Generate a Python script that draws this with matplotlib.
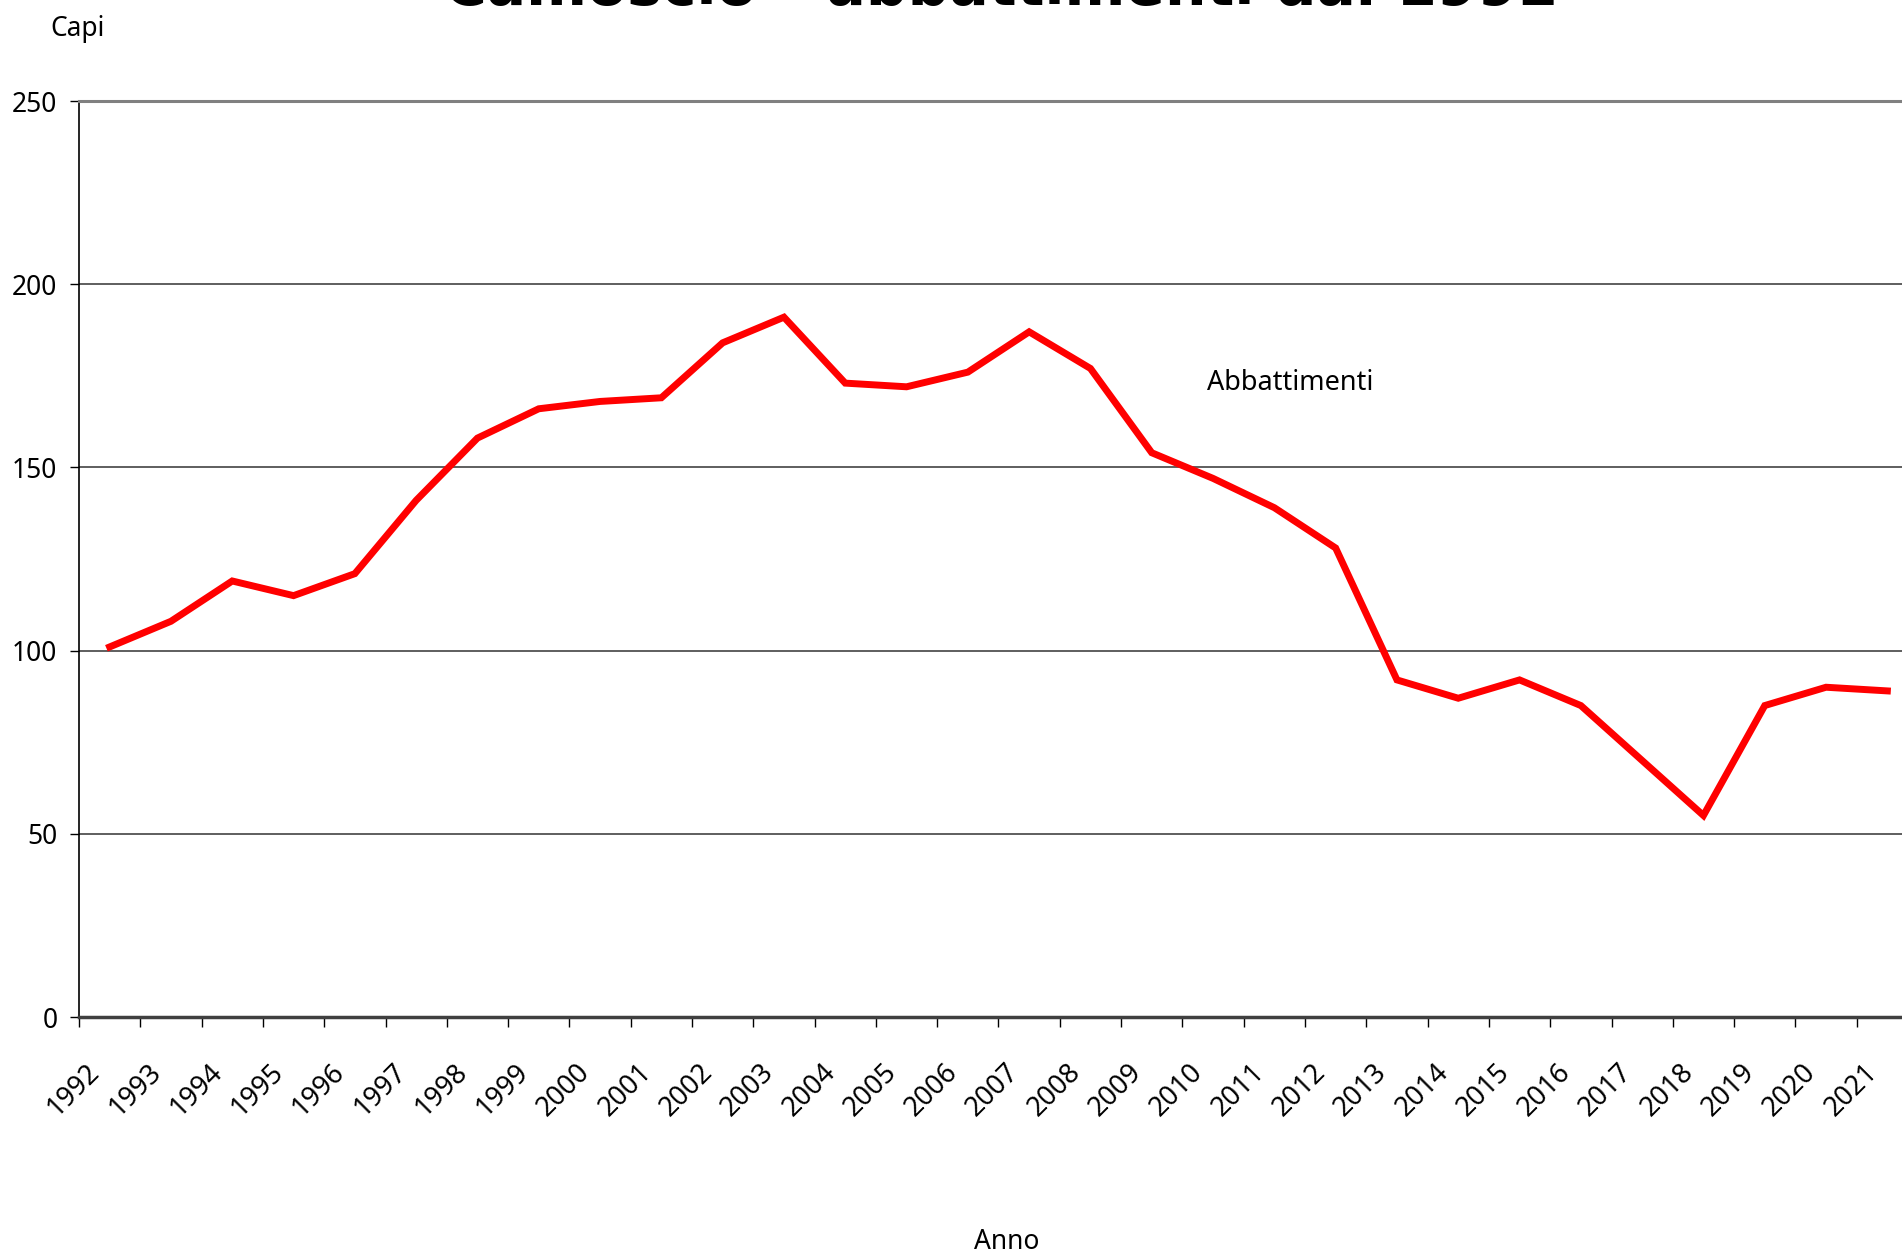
import matplotlib
matplotlib.use("Agg")
import matplotlib.pyplot as plt
import matplotlib.transforms as mtransforms
import numpy as np

plt.rcParams['font.family'] = ['Noto Sans', 'DejaVu Sans']

years = [str(y) for y in range(1992, 2022)]
abbattimenti = [101, 108, 119, 115, 121, 141, 158, 166, 168, 169,
                184, 191, 173, 172, 176, 187, 177, 154, 147, 139,
                128, 92, 87, 92, 85, 70, 55, 85, 90, 89]
y_ticks = [0, 50, 100, 150, 200, 250]

title = "Camoscio \u2013 abbattimenti dal 1992"
series_label = "Abbattimenti"
y_label = "Capi"
x_label = "Anno"

W, H = 1902, 1253
fig = plt.figure(figsize=(W / 100, H / 100), dpi=100)
left, right, top, bottom = 79, 1918, 101, 1017
ax = fig.add_axes([left / W, (H - bottom) / H, (right - left) / W, (bottom - top) / H])

x = np.arange(len(years))
ax.plot(x, abbattimenti, color='#ff0000', lw=5, solid_joinstyle='miter', zorder=3, clip_on=False)

ax.set_xlim(-0.5, len(years) - 0.5)
ax.set_ylim(0, 250)

# gridlines
for v in y_ticks[1:-1]:
    ax.axhline(v, color='#333333', lw=1.1, zorder=1)

ax.spines['right'].set_visible(False)
ax.spines['top'].set_color('#808080')
ax.spines['top'].set_linewidth(2.2)
ax.spines['bottom'].set_color('#404040')
ax.spines['bottom'].set_linewidth(2.5)
ax.spines['left'].set_color('black')
ax.spines['left'].set_linewidth(1.2)

ax.set_yticks(y_ticks)
ax.set_yticklabels([str(v) for v in y_ticks])
ax.tick_params(axis='y', direction='out', length=6.5, width=1, pad=9, labelsize=19, colors='black')

# category boundaries as major ticks, labels at centers
ax.set_xticks(np.arange(len(years)) - 0.5)
ax.set_xticklabels([])
ax.tick_params(axis='x', which='major', direction='out', length=7, width=1, color='black')
ax.set_xticks(x, minor=True)
ax.set_xticklabels(years, minor=True, rotation=45, ha='right', va='center',
                   rotation_mode='anchor', fontsize=19.5)
ax.tick_params(axis='x', which='minor', length=0, pad=37)
off = mtransforms.ScaledTranslation(-14 / 100, 0, fig.dpi_scale_trans)
for lab in ax.get_xticklabels(minor=True):
    lab.set_transform(lab.get_transform() + off)

ax.text(17.9, 171, series_label, fontsize=19.5, ha='left', va='baseline')

fig.text(50 / W, 1 - 36 / H, y_label, fontsize=19, ha='left', va='baseline')
fig.text(1007 / W, 4 / H, x_label, fontsize=19, ha='center', va='baseline')
fig.text(1001 / W, 1 - 5 / H, title, fontsize=42, fontweight='bold',
         family='DejaVu Sans', ha='center', va='baseline')

fig.savefig('out.png', dpi=100)
